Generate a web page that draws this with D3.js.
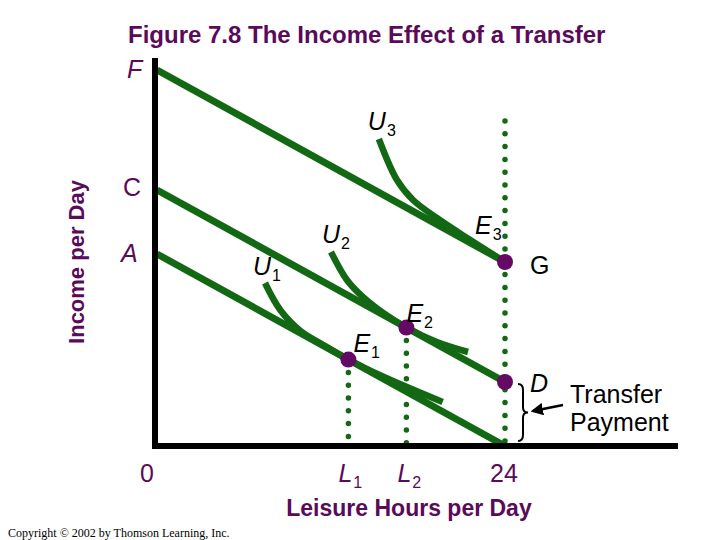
<!DOCTYPE html>
<html>
<head>
<meta charset="utf-8">
<script src="https://cdn.jsdelivr.net/npm/d3@7"></script>
<style>
  body { margin: 0; background: #fff; }
  svg { display: block; }
</style>
</head>
<body>
<div id="chart"></div>
<script>
// budget lines: [leisure hours, income]
const budgetA = [[0, 192], [24, 0]];
const budgetC = [[0, 256], [24, 64]];
const budgetF = [[0, 376], [24, 184]];

// indifference curves
const curveU1 = [[7.45, 163], [8.5, 136], [9.9, 115], [11.3, 102.5], [13.2, 86.4], [15.5, 70], [19.7, 44]];
const curveU2 = [[12.0, 194], [13.1, 166], [14.2, 149], [15.6, 133], [17.2, 118.4], [19.3, 104], [21.45, 94]];
const curveU3 = [[15.3, 307], [16.55, 266], [17.66, 246], [19.3, 228], [21.5, 207], [24, 184]];

// equilibrium points
const eqNames = ["E1", "E2", "E3"];
const eqHours = [13.2, 17.2, 24];
const eqIncome = [86.4, 118.4, 184];
const pointD = [24, 64];
const guideTop = 325;   // top of the dotted line at 24 hours

const width = 720, height = 540;
const green = "#136813", purple = "#640a64", textPurple = "#5a0a5a";

const svg = d3.select("#chart").append("svg")
    .attr("width", width).attr("height", height)
    .style("font-family", "'Liberation Sans', Arial, sans-serif");

const x = d3.scaleLinear().domain([0, 24]).range([157, 505]);
const y = d3.scaleLinear().domain([0, 390]).range([446, 56]);

// title
svg.append("text")
    .attr("x", 128).attr("y", 43)
    .attr("font-size", 24).attr("font-weight", "bold")
    .attr("fill", textPurple)
    .text("Figure 7.8 The Income Effect of a Transfer");

// dotted guide lines
const guide = (x0, y0, y1) => svg.append("line")
    .attr("x1", x0).attr("x2", x0).attr("y1", y0).attr("y2", y1)
    .attr("stroke", green).attr("stroke-width", 5.5)
    .attr("stroke-linecap", "round")
    .attr("stroke-dasharray", "0 12.8");
guide(x(eqHours[0]), y(eqIncome[0]), y(0));
guide(x(eqHours[1]), y(eqIncome[1]), y(0));
guide(x(24), y(guideTop), y(0));

const line = d3.line().x(d => x(d[0])).y(d => y(d[1]));
const smooth = d3.line().x(d => x(d[0])).y(d => y(d[1])).curve(d3.curveCatmullRom);

[budgetF, budgetC, budgetA].forEach(b => {
    svg.append("path")
        .datum(b)
        .attr("fill", "none")
        .attr("stroke", green)
        .attr("stroke-width", 7)
        .attr("d", line);
});

[curveU1, curveU2, curveU3].forEach(c => {
    svg.append("path")
        .datum(c)
        .attr("fill", "none")
        .attr("stroke", green)
        .attr("stroke-width", 6.5)
        .attr("d", smooth);
});

// points
const pts = eqHours.map((h, i) => [h, eqIncome[i]]).concat([pointD]);
svg.selectAll("circle.pt")
    .data(pts)
    .enter().append("circle")
    .attr("class", "pt")
    .attr("cx", d => x(d[0])).attr("cy", d => y(d[1]))
    .attr("r", 8).attr("fill", purple);

// axes
svg.append("line")
    .attr("x1", x(0) - 2).attr("x2", x(0) - 2)
    .attr("y1", 58).attr("y2", y(0) + 3)
    .attr("stroke", "#000").attr("stroke-width", 6);
svg.append("line")
    .attr("x1", x(0) - 5).attr("x2", 678)
    .attr("y1", y(0)).attr("y2", y(0))
    .attr("stroke", "#000").attr("stroke-width", 6);

// labels with subscripts
function subLabel(px, py, main, sub, color, italic) {
    const t = svg.append("text")
        .attr("x", px).attr("y", py)
        .attr("font-size", 25)
        .attr("fill", color);
    t.append("tspan").attr("font-style", italic ? "italic" : "normal").text(main);
    if (sub) {
        t.append("tspan").attr("dy", 6).attr("dx", 1).attr("font-size", 16).text(sub);
    }
    return t;
}

// intercept labels
subLabel(127, y(budgetF[0][1]) + 8, "F", null, textPurple, true);
subLabel(123, y(budgetC[0][1]) + 6, "C", null, textPurple, false);
subLabel(121, y(budgetA[0][1]) + 8, "A", null, textPurple, true);

// curve labels
subLabel(x(curveU3[0][0]) - 11, y(curveU3[0][1]) - 9, "U", "3", "#000", true);
subLabel(x(curveU2[0][0]) - 9, y(curveU2[0][1]) - 9, "U", "2", "#000", true);
subLabel(x(curveU1[0][0]) - 12, y(curveU1[0][1]) - 8, "U", "1", "#000", true);

// point labels
subLabel(x(eqHours[0]) + 5, y(eqIncome[0]) - 8, "E", "1", "#000", true);
subLabel(x(eqHours[1]) + 0, y(eqIncome[1]) - 6, "E", "2", "#000", true);
subLabel(x(eqHours[2]) - 30, y(eqIncome[2]) - 28, "E", "3", "#000", true);
subLabel(x(24) + 25, y(eqIncome[2]) + 12, "G", null, "#000", false);
subLabel(x(pointD[0]) + 25, y(pointD[1]) + 10, "D", null, "#000", true);

// x labels
subLabel(x(0) - 17, 482, "0", null, textPurple, false);
subLabel(x(eqHours[0]) - 10, 482, "L", "1", textPurple, true);
subLabel(x(eqHours[1]) - 9, 482, "L", "2", textPurple, true);
subLabel(x(24) - 15, 482, "24", null, textPurple, false);

// axis titles
svg.append("text")
    .attr("transform", `translate(84, ${(y(0) + 58) / 2 + 10}) rotate(-90)`)
    .attr("text-anchor", "middle")
    .attr("font-size", 22).attr("font-weight", "bold")
    .attr("fill", textPurple)
    .text("Income per Day");
svg.append("text")
    .attr("x", 409).attr("y", 516)
    .attr("text-anchor", "middle")
    .attr("font-size", 23).attr("font-weight", "bold")
    .attr("fill", textPurple)
    .text("Leisure Hours per Day");

// transfer payment brace and arrow
const bTop = y(pointD[1]) + 2, bBot = y(0) - 5, bMid = (bTop + bBot) / 2;
const bx = x(24) + 13;
svg.append("path")
    .attr("d", `M${bx},${bTop} Q${bx + 5},${bTop} ${bx + 5},${bTop + 6} L${bx + 5},${bMid - 5} Q${bx + 5},${bMid} ${bx + 10},${bMid}
                Q${bx + 5},${bMid} ${bx + 5},${bMid + 5} L${bx + 5},${bBot - 6} Q${bx + 5},${bBot} ${bx},${bBot}`)
    .attr("fill", "none").attr("stroke", "#000").attr("stroke-width", 2);

svg.append("defs").append("marker")
    .attr("id", "arrow").attr("viewBox", "0 0 10 10")
    .attr("refX", 8).attr("refY", 5)
    .attr("markerWidth", 5).attr("markerHeight", 5)
    .attr("orient", "auto")
    .append("path").attr("d", "M0,0 L10,5 L0,10 z").attr("fill", "#000");
svg.append("line")
    .attr("x1", 563).attr("y1", 405).attr("x2", 533).attr("y2", 411)
    .attr("stroke", "#000").attr("stroke-width", 2.5)
    .attr("marker-end", "url(#arrow)");

svg.append("text").attr("x", 570).attr("y", 403)
    .attr("font-size", 25).text("Transfer");
svg.append("text").attr("x", 570).attr("y", 431)
    .attr("font-size", 25).text("Payment");

// copyright
svg.append("text")
    .attr("x", 8).attr("y", 537)
    .attr("font-family", "'Liberation Serif', 'Times New Roman', serif")
    .attr("font-size", 12)
    .text("Copyright \u00a9 2002 by Thomson Learning, Inc.");
</script>
</body>
</html>
